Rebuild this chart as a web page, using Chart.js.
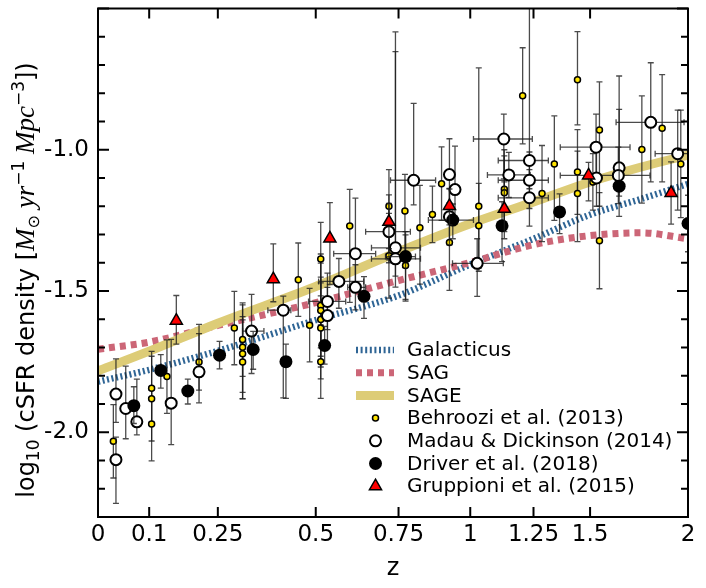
<!DOCTYPE html>
<html>
<head>
<meta charset="utf-8">
<script src="https://cdn.jsdelivr.net/npm/chart.js@4.4.0/dist/chart.umd.min.js"></script>
<style>
  body { margin: 0; background: #fff; }
  #wrap { width: 706px; height: 588px; }
</style>
</head>
<body>
<div id="wrap"><canvas id="MyChart" width="706" height="588"></canvas></div>
<script>
// x axis is drawn in log10(1+z)
const tickZ = [0, 0.1, 0.25, 0.5, 0.75, 1, 1.25, 1.5, 2];
const tickZLabels = ['0', '0.1', '0.25', '0.5', '0.75', '1', '1.25', '1.5', '2'];
const tickY = [-2.0, -1.5, -1.0];
const tickYLabels = ['-2.0', '-1.5', '-1.0'];

// model curves
const modelZ = [0, 0.1, 0.25, 0.5, 0.75, 1, 1.25, 1.5, 1.75, 2];
const galacticus = [-1.821, -1.779, -1.712, -1.603, -1.516, -1.406, -1.315, -1.230, -1.174, -1.121];
const sag = [-1.706, -1.681, -1.622, -1.541, -1.463, -1.399, -1.336, -1.304, -1.294, -1.315];
const sage = [-1.783, -1.713, -1.614, -1.484, -1.361, -1.262, -1.185, -1.114, -1.061, -1.019];

// Behroozi et al. (2013)
const behZ = [0.029, 0.105, 0.105, 0.105, 0.137, 0.207, 0.289, 0.309, 0.309, 0.309, 0.309, 0.452, 0.483, 0.514,
  0.514, 0.514, 0.514, 0.514, 0.514, 0.598, 0.719, 0.719, 0.771, 0.773, 0.821, 0.864, 0.896, 0.924, 1.032, 1.032,
  1.131, 1.131, 1.205, 1.286, 1.339, 1.442, 1.442, 1.442, 1.513, 1.544, 1.544, 1.753, 1.859, 1.96];
const behY = [-2.032, -1.844, -1.881, -1.971, -1.803, -1.751, -1.631, -1.672, -1.699, -1.722, -1.751, -1.460, -1.621, -1.387,
  -1.551, -1.569, -1.601, -1.631, -1.750, -1.270, -1.200, -1.375, -1.217, -1.410, -1.276, -1.229, -1.120, -1.328, -1.200, -1.269,
  -1.140, -1.152, -0.809, -1.155, -1.050, -0.752, -1.079, -1.155, -1.114, -0.930, -1.322, -0.999, -0.924, -1.050];
const behLo = [0.13, 0.12, 0.15, 0.13, 0.13, 0.10, 0.13, 0.13, 0.16, 0.16, 0.13, 0.13, 0.13, 0.13,
  0.15, 0.20, 0.13, 0.18, 0.13, 0.27, 0.20, 0.15, 0.20, 0.12, 0.20, 0.10, 0.13, 0.17, 0.23, 0.15,
  0.15, 0.13, 0.17, 0.17, 0.20, 0.16, 0.15, 0.17, 0.10, 0.27, 0.17, 0.19, 0.19, 0.19];
const behHi = [0.13, 0.13, 0.15, 0.12, 0.13, 0.10, 0.13, 0.13, 0.15, 0.12, 0.16, 0.13, 0.13, 0.13,
  0.15, 0.20, 0.13, 0.18, 0.13, 0.13, 0.13, 0.15, 0.13, 0.12, 0.15, 0.10, 0.13, 0.11, 0.49, 0.15,
  0.14, 0.13, 0.17, 0.17, 0.17, 0.17, 0.15, 0.15, 0.10, 0.17, 0.17, 0.19, 0.19, 0.19];

// Madau & Dickinson (2014)
const madZ = [0.034, 0.034, 0.053, 0.075, 0.146, 0.207, 0.331, 0.412, 0.533, 0.533, 0.566, 0.615, 0.615, 0.719, 0.740, 0.740,
  0.800, 0.924, 0.944, 0.924, 1.026, 1.129, 1.149, 1.233, 1.233, 1.233, 1.528, 1.530, 1.639, 1.635, 1.799, 1.943];
const madY = [-1.865, -2.097, -1.916, -1.963, -1.897, -1.786, -1.642, -1.568, -1.537, -1.587, -1.466, -1.368, -1.487, -1.290, -1.347, -1.386,
  -1.108, -1.088, -1.141, -1.237, -1.402, -0.962, -1.089, -1.038, -1.108, -1.170, -0.991, -1.100, -1.064, -1.091, -0.903, -1.014];
const madLo = [0.10, 0.155, 0.107, 0.046, 0.147, 0.11, 0.15, 0.31, 0.10, 0.10, 0.095, 0.10, 0.08, 0.10, 0.10, 0.10,
  0.087, 0.10, 0.10, 0.10, 0.117, 0.141, 0.08, 0.10, 0.10, 0.10, 0.106, 0.10, 0.10, 0.10, 0.211, 0.20];
const madHi = [0.125, 0.08, 0.15, 0.151, 0.226, 0.168, 0.13, 0.05, 0.10, 0.10, 0.081, 0.197, 0.08, 0.10, 0.764, 0.733,
  0.272, 0.127, 0.154, 0.10, 0.087, 0.088, 0.08, 0.60, 0.10, 0.10, 0.117, 0.10, 0.325, 0.10, 0.211, 0.154];
const madZMin = [null, null, null, null, null, null, 0.309, 0.372, 0.480, null, 0.508, 0.551, 0.592, 0.646, 0.664, 0.664,
  0.724, null, null, null, 0.935, 1.012, 1.065, 1.107, 1.107, 1.107, 1.365, null, null, 1.365, 1.624, 1.822];
const madZMax = [null, null, null, null, null, null, 0.362, 0.432, 0.586, null, 0.640, 0.677, 0.646, 0.789, 0.823, 0.823,
  0.875, null, null, null, 1.127, 1.245, 1.236, 1.313, 1.313, 1.313, 1.693, null, null, 1.795, 1.978, 2.1];

// Driver et al. (2018)
const drvZ = [0.069, 0.124, 0.182, 0.254, 0.335, 0.419, 0.525, 0.641, 0.773, 0.936, 1.122, 1.362, 1.639, 2.0];
const drvY = [-1.906, -1.781, -1.854, -1.727, -1.707, -1.750, -1.693, -1.519, -1.378, -1.249, -1.269, -1.220, -1.129, -1.261];
const drvLo = [0.063, 0.063, 0.046, 0.049, 0.07, 0.13, 0.066, 0.078, 0.158, 0.066, 0.127, 0.077, 0.107, 0.10];
const drvHi = [0.067, 0.056, 0.042, 0.049, 0.064, 0.062, 0.068, 0.07, 0.077, 0.057, 0.085, 0.064, 0.272, 0.10];
const drvZMin = [null, null, null, null, null, null, null, null, 0.708, 0.850, null, null, null, null];
const drvZMax = [null, null, null, null, null, null, null, null, 0.806, 1.012, null, null, null, null];

// Gruppioni et al. (2015)
const grpZ = [0.157, 0.386, 0.540, 0.719, 0.924, 1.131, 1.493, 1.907];
const grpY = [-1.605, -1.458, -1.314, -1.255, -1.199, -1.209, -1.091, -1.153];
const grpLo = [0.083, 0.08, 0.163, 0.095, 0.067, 0.106, 0.09, 0.11];
const grpHi = [0.089, 0.125, 0.127, 0.095, 0.06, 0.095, 0.046, 0.11];

const legendNames = ['Galacticus', 'SAG', 'SAGE', 'Behroozi et al. (2013)', 'Madau & Dickinson (2014)',
  'Driver et al. (2018)', 'Gruppioni et al. (2015)'];

function pts(zs, ys) {
  return zs.map(function (z, i) { return { x: 1 + z, y: ys[i] }; });
}

const C_GAL = '#2f6595', C_SAG = '#cc6677', C_SAGE = '#ddcc77', C_YEL = '#ffe400';

// error bars, drawn just before the markers of each dataset
const errorBars = {
  id: 'errorBars',
  beforeDatasetDraw(chart, args) {
    const ds = chart.data.datasets[args.index];
    if (!ds.errLo) return;
    const ctx = chart.ctx, a = chart.chartArea, x = chart.scales.x, y = chart.scales.y;
    ctx.save();
    ctx.beginPath();
    ctx.rect(a.left, a.top, a.right - a.left, a.bottom - a.top);
    ctx.clip();
    ctx.strokeStyle = 'rgba(30,30,30,0.8)';
    ctx.lineWidth = 1.3;
    ds.data.forEach(function (p, i) {
      const px = x.getPixelForValue(p.x), py = y.getPixelForValue(p.y);
      const top = y.getPixelForValue(p.y + ds.errHi[i]), bot = y.getPixelForValue(p.y - ds.errLo[i]);
      ctx.beginPath();
      ctx.moveTo(px, top); ctx.lineTo(px, bot);
      ctx.moveTo(px - 3, top); ctx.lineTo(px + 3, top);
      ctx.moveTo(px - 3, bot); ctx.lineTo(px + 3, bot);
      if (ds.zMin && ds.zMin[i] != null) {
        const l = x.getPixelForValue(1 + ds.zMin[i]), r = x.getPixelForValue(1 + ds.zMax[i]);
        ctx.moveTo(l, py); ctx.lineTo(r, py);
        ctx.moveTo(l, py - 3); ctx.lineTo(l, py + 3);
        ctx.moveTo(r, py - 3); ctx.lineTo(r, py + 3);
      }
      ctx.stroke();
    });
    ctx.restore();
  }
};

// box, inward ticks, legend, axis titles
const decor = {
  id: 'decor',
  afterDraw(chart) {
    const ctx = chart.ctx, a = chart.chartArea, x = chart.scales.x, y = chart.scales.y;
    ctx.save();
    ctx.strokeStyle = '#000';
    ctx.lineWidth = 2;
    ctx.beginPath();
    x.ticks.forEach(function (t) {
      const px = x.getPixelForValue(t.value);
      ctx.moveTo(px, a.bottom); ctx.lineTo(px, a.bottom - 10);
      ctx.moveTo(px, a.top); ctx.lineTo(px, a.top + 10);
    });
    for (let k = -23; k <= -5; k++) {
      const py = y.getPixelForValue(k / 10);
      const len = k % 5 === 0 ? 11 : 7;
      ctx.moveTo(a.left, py); ctx.lineTo(a.left + len, py);
      ctx.moveTo(a.right, py); ctx.lineTo(a.right - len, py);
    }
    ctx.stroke();
    ctx.strokeRect(a.left, a.top, a.right - a.left, a.bottom - a.top);

    // legend
    const lx0 = 356, lx1 = 394, mx = 375.5, tx = 407;
    ctx.font = '20px "DejaVu Sans"';
    ctx.textBaseline = 'middle';
    legendNames.forEach(function (name, i) {
      const ly = 350 + i * 22.7;
      ctx.fillStyle = '#000';
      ctx.fillText(name, tx, ly + 1);
      ctx.setLineDash([]);
      if (i === 0) {
        ctx.strokeStyle = C_GAL; ctx.lineWidth = 6.5; ctx.setLineDash([2, 2.6]);
        ctx.beginPath(); ctx.moveTo(lx0, ly); ctx.lineTo(lx1, ly); ctx.stroke();
      } else if (i === 1) {
        ctx.strokeStyle = C_SAG; ctx.lineWidth = 7; ctx.setLineDash([6, 5]);
        ctx.beginPath(); ctx.moveTo(lx0, ly); ctx.lineTo(lx1, ly); ctx.stroke();
      } else if (i === 2) {
        ctx.strokeStyle = C_SAGE; ctx.lineWidth = 9;
        ctx.beginPath(); ctx.moveTo(lx0, ly); ctx.lineTo(lx1, ly); ctx.stroke();
      } else if (i === 3) {
        ctx.beginPath(); ctx.arc(mx, ly, 3, 0, 2 * Math.PI);
        ctx.fillStyle = C_YEL; ctx.fill(); ctx.lineWidth = 1.5; ctx.strokeStyle = '#000'; ctx.stroke();
      } else if (i === 4) {
        ctx.beginPath(); ctx.arc(mx, ly, 5.5, 0, 2 * Math.PI);
        ctx.fillStyle = '#fff'; ctx.fill(); ctx.lineWidth = 2; ctx.strokeStyle = '#000'; ctx.stroke();
      } else if (i === 5) {
        ctx.beginPath(); ctx.arc(mx, ly, 6.5, 0, 2 * Math.PI);
        ctx.fillStyle = '#000'; ctx.fill();
      } else {
        const r = 7;
        ctx.beginPath();
        ctx.moveTo(mx, ly - r);
        ctx.lineTo(mx + r * 0.866, ly + r * 0.5);
        ctx.lineTo(mx - r * 0.866, ly + r * 0.5);
        ctx.closePath();
        ctx.fillStyle = '#ff0000'; ctx.fill(); ctx.lineWidth = 1.5; ctx.strokeStyle = '#000'; ctx.stroke();
      }
    });
    ctx.setLineDash([]);

    // x title
    ctx.fillStyle = '#000';
    ctx.textAlign = 'center';
    ctx.textBaseline = 'alphabetic';
    ctx.font = '24px "DejaVu Sans"';
    ctx.fillText('z', (a.left + a.right) / 2, 575);

    // y title with sub/superscripts
    const sans = '"DejaVu Sans"', serif = '"Liberation Serif"';
    const parts = [
      { t: 'log', f: '24px ' + sans, dy: 0 },
      { t: '10', f: '17px ' + sans, dy: 5 },
      { t: ' (cSFR density [', f: '24px ' + sans, dy: 0 },
      { t: 'M', f: 'italic 27px ' + serif, dy: 0 },
      { t: '\u2299', f: '16px ' + sans, dy: 5 },
      { t: ' yr', f: 'italic 27px ' + serif, dy: 0 },
      { t: '\u22121', f: '17px ' + sans, dy: -10 },
      { t: ' Mpc', f: 'italic 27px ' + serif, dy: 0 },
      { t: '\u22123', f: '17px ' + sans, dy: -10 },
      { t: '])', f: '24px ' + sans, dy: 0 }
    ];
    ctx.textAlign = 'left';
    let total = 0;
    parts.forEach(function (p) { ctx.font = p.f; p.w = ctx.measureText(p.t).width; total += p.w; });
    ctx.translate(34, 280);
    ctx.rotate(-Math.PI / 2);
    let cx = -total / 2;
    parts.forEach(function (p) { ctx.font = p.f; ctx.fillText(p.t, cx, p.dy); cx += p.w; });
    ctx.restore();
  }
};

const tickFont = { family: 'DejaVu Sans', size: 23 };

new Chart(document.getElementById('MyChart'), {
  type: 'scatter',
  data: {
    datasets: [
      { type: 'scatter', label: 'Gruppioni et al. (2015)', data: pts(grpZ, grpY), errLo: grpLo, errHi: grpHi,
        pointStyle: 'triangle', pointRadius: 7, backgroundColor: '#ff0000', borderColor: '#000', borderWidth: 1.5, order: 1 },
      { type: 'scatter', label: 'Driver et al. (2018)', data: pts(drvZ, drvY), errLo: drvLo, errHi: drvHi,
        zMin: drvZMin, zMax: drvZMax,
        pointRadius: 6.5, backgroundColor: '#000', borderColor: '#000', borderWidth: 0, order: 2 },
      { type: 'scatter', label: 'Madau & Dickinson (2014)', data: pts(madZ, madY), errLo: madLo, errHi: madHi,
        zMin: madZMin, zMax: madZMax,
        pointRadius: 5.5, backgroundColor: '#fff', borderColor: '#000', borderWidth: 2, order: 3 },
      { type: 'scatter', label: 'Behroozi et al. (2013)', data: pts(behZ, behY), errLo: behLo, errHi: behHi,
        pointRadius: 3, backgroundColor: C_YEL, borderColor: '#000', borderWidth: 1.5, order: 4 },
      { type: 'line', label: 'SAGE', data: pts(modelZ, sage), borderColor: C_SAGE, borderWidth: 9,
        pointRadius: 0, cubicInterpolationMode: 'monotone', fill: false, order: 5 },
      { type: 'line', label: 'SAG', data: pts(modelZ, sag), borderColor: C_SAG, borderWidth: 7, borderDash: [6, 5],
        pointRadius: 0, cubicInterpolationMode: 'monotone', fill: false, order: 6 },
      { type: 'line', label: 'Galacticus', data: pts(modelZ, galacticus), borderColor: C_GAL, borderWidth: 6.5,
        borderDash: [2, 2.6], pointRadius: 0, cubicInterpolationMode: 'monotone', fill: false, order: 7 }
    ]
  },
  options: {
    responsive: false,
    animation: false,
    layout: { padding: { left: 0, right: 18, top: 5, bottom: 0 } },
    plugins: { legend: { display: false }, tooltip: { enabled: false } },
    scales: {
      x: {
        type: 'logarithmic', min: 1, max: 3,
        afterBuildTicks: function (s) { s.ticks = tickZ.map(function (z) { return { value: 1 + z }; }); },
        afterFit: function (s) { s.height = 71; s.paddingLeft = 0; s.paddingRight = 0; },
        grid: { display: false, drawTicks: false },
        border: { display: false },
        ticks: { autoSkip: false, maxRotation: 0, padding: 4, color: '#000', font: tickFont,
          callback: function (v, i) { return tickZLabels[i]; } }
      },
      y: {
        type: 'linear', min: -2.3, max: -0.5,
        afterBuildTicks: function (s) { s.ticks = tickY.map(function (v) { return { value: v }; }); },
        afterFit: function (s) { s.width = 98; s.paddingTop = 0; s.paddingBottom = 0; },
        grid: { display: false, drawTicks: false },
        border: { display: false },
        ticks: { padding: 9, color: '#000', font: tickFont,
          callback: function (v, i) { return tickYLabels[i]; } }
      }
    }
  },
  plugins: [errorBars, decor]
});
</script>
</body>
</html>
